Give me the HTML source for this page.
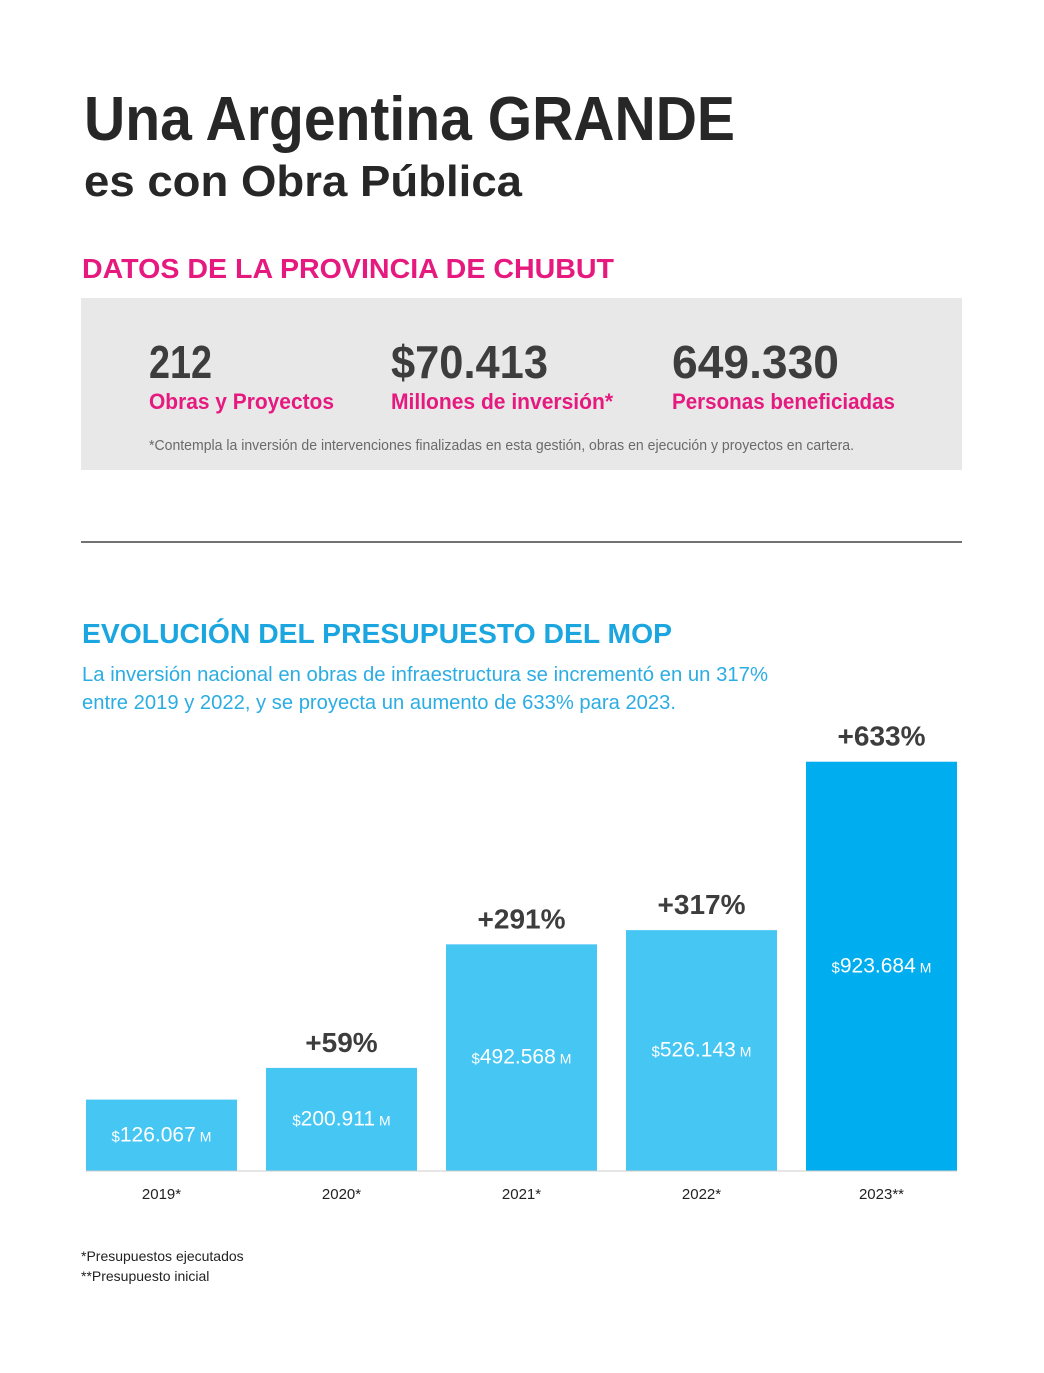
<!DOCTYPE html>
<html><head><meta charset="utf-8"><style>
html,body{margin:0;padding:0;background:#fff;}
svg{display:block;font-family:"Liberation Sans",sans-serif;}
</style></head><body>
<svg width="1044" height="1373" viewBox="0 0 1044 1373">
<text x="84" y="140" font-size="62" font-weight="bold" fill="#272727" textLength="651" lengthAdjust="spacingAndGlyphs">Una Argentina GRANDE</text>
<text x="84" y="196" font-size="44" font-weight="bold" fill="#272727" textLength="438" lengthAdjust="spacingAndGlyphs">es con Obra Pública</text>
<text x="82" y="278" font-size="28" font-weight="bold" fill="#e6197f" textLength="532" lengthAdjust="spacingAndGlyphs">DATOS DE LA PROVINCIA DE CHUBUT</text>
<rect x="81" y="298" width="881" height="172" fill="#e8e8e8"/>
<text x="149" y="378" font-size="46" font-weight="bold" fill="#3d3d3d" textLength="63" lengthAdjust="spacingAndGlyphs">212</text>
<text x="391" y="378" font-size="46" font-weight="bold" fill="#3d3d3d" textLength="157" lengthAdjust="spacingAndGlyphs">$70.413</text>
<text x="672" y="378" font-size="46" font-weight="bold" fill="#3d3d3d" textLength="167" lengthAdjust="spacingAndGlyphs">649.330</text>
<text x="149" y="409" font-size="22" font-weight="bold" fill="#e6197f" textLength="185" lengthAdjust="spacingAndGlyphs">Obras y Proyectos</text>
<text x="391" y="409" font-size="22" font-weight="bold" fill="#e6197f" textLength="222" lengthAdjust="spacingAndGlyphs">Millones de inversión*</text>
<text x="672" y="409" font-size="22" font-weight="bold" fill="#e6197f" textLength="223" lengthAdjust="spacingAndGlyphs">Personas beneficiadas</text>
<text x="149" y="450" font-size="14.5" fill="#6a6a6a" textLength="705" lengthAdjust="spacingAndGlyphs">*Contempla la inversión de intervenciones finalizadas en esta gestión, obras en ejecución y proyectos en cartera.</text>
<line x1="81" y1="542" x2="962" y2="542" stroke="#444" stroke-width="1.5"/>
<text x="82" y="643" font-size="28" font-weight="bold" fill="#1ba6df" textLength="590" lengthAdjust="spacingAndGlyphs">EVOLUCIÓN DEL PRESUPUESTO DEL MOP</text>
<text x="82" y="681" font-size="20" fill="#2bade3" textLength="686" lengthAdjust="spacingAndGlyphs">La inversión nacional en obras de infraestructura se incrementó en un 317%</text>
<text x="82" y="709" font-size="20" fill="#2bade3" textLength="594" lengthAdjust="spacingAndGlyphs">entre 2019 y 2022, y se proyecta un aumento de 633% para 2023.</text>
<g id="chart"></g>
<text x="81" y="1261" font-size="14" fill="#222">*Presupuestos ejecutados</text>
<text x="81" y="1281" font-size="14" fill="#222">**Presupuesto inicial</text>
</svg>
<script>
const categories = ["2019*", "2020*", "2021*", "2022*", "2023**"];
const values = [126067, 200911, 492568, 526143, 923684];
const valueLabels = ["126.067", "200.911", "492.568", "526.143", "923.684"];
const pctLabels = ["", "+59%", "+291%", "+317%", "+633%"];
const NS = "http://www.w3.org/2000/svg";
const g = document.getElementById("chart");
const baseY = 1171, x0 = 86, step = 180, bw = 151;
function yScale(v){ return baseY - (18 + v * 0.0004236); }
function xScale(i){ return x0 + i * step; }
function mk(tag, attrs, txt){ const e = document.createElementNS(NS, tag); for (const k in attrs) e.setAttribute(k, attrs[k]); if (txt !== undefined) e.textContent = txt; return e; }
values.forEach((v, i) => {
  const top = yScale(v), x = xScale(i), cx = x + bw / 2;
  const r = mk("rect", {x: x, y: top, width: bw, height: baseY - top, fill: i === values.length - 1 ? "#00aeef" : "#45c6f3"});
  
  
  g.appendChild(r);
  const t = mk("text", {x: cx, y: (top + baseY) / 2 + 6, "text-anchor": "middle", fill: "#fff", "font-size": "21"});
  
  
  t.appendChild(mk("tspan", {"font-size": "15"}, "$"));
  t.appendChild(mk("tspan", {}, valueLabels[i]));
  t.appendChild(mk("tspan", {"font-size": "14", dx: "4"}, "M"));
  g.appendChild(t);
  if (pctLabels[i]) {
    const p = mk("text", {x: cx, y: top - 16, "text-anchor": "middle", fill: "#3d3d3d", "font-size": "28", "font-weight": "bold"}, pctLabels[i]);
    
    
    g.appendChild(p);
  }
  const c = mk("text", {x: cx, y: 1199, "text-anchor": "middle", fill: "#222", "font-size": "15"}, categories[i]);
  
  
  g.appendChild(c);
});
const ax = mk("line", {x1: 86, y1: baseY, x2: 957, y2: baseY, stroke: "#ccc", "stroke-width": "1"});


g.appendChild(ax);
</script>
</body></html>
